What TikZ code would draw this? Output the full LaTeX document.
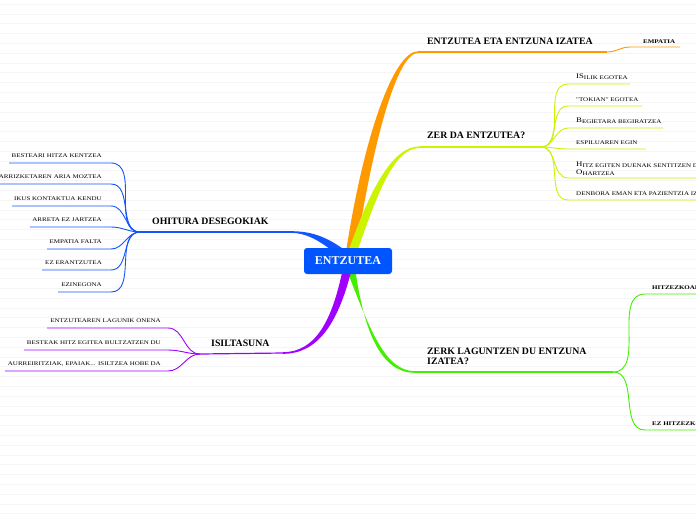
\documentclass[tikz,border=0pt]{standalone}
\usepackage{fontspec}
\setmainfont{Liberation Serif}
\newfontfamily\itemfont[FakeStretch=1.25]{Liberation Serif}
\definecolor{ruleline}{RGB}{245,245,245}
\definecolor{orangeline}{RGB}{255,153,0}
\definecolor{zerline}{RGB}{204,243,0}
\definecolor{greenline}{RGB}{68,238,0}
\definecolor{blueline}{RGB}{17,85,255}
\definecolor{purpleline}{RGB}{160,0,255}
\definecolor{centerblue}{RGB}{0,85,255}
\newcommand{\firstcap}[1]{\raisebox{0.4pt}{\fontsize{7}{7}\selectfont #1}}

\begin{document}
\begin{tikzpicture}[x=1pt, y=-1pt,
    mainlabel/.style={font=\bfseries\fontsize{9.8}{10.5}\selectfont, inner sep=0pt, align=left},
    sublabel/.style={font=\itemfont\fontsize{5.6}{8}\selectfont, inner sep=0pt, align=left},
    subbold/.style={font=\itemfont\bfseries\fontsize{5.6}{8}\selectfont, inner sep=0pt},
    mainline/.style={line width=1.2pt},
    subline/.style={line width=0.9pt},
    centerbox/.style={fill=centerblue, rounded corners=3pt, minimum width=88pt, minimum height=26pt,
        inner sep=0pt, text=white, font=\bfseries\fontsize{12}{13}\selectfont}
]

% Page and ruled background
\useasboundingbox (0,0) rectangle (696,520);
\clip (0,0) rectangle (696,520);
\fill[white] (0,0) rectangle (696,520);
\foreach \yy in {4,13.8,...,520} {
    \draw[ruleline, line width=0.6pt] (0,\yy) -- (696,\yy);
}

% 1. ENTZUTEA ETA ENTZUNA IZATEA (orange)
\fill[orangeline] (346,252) .. controls (363,140) and (393,51.3) .. (418,51.3)
    -- (418,52.9) .. controls (397,53) and (373,142) .. (356,252) -- cycle;
\coordinate (entzunStart) at (418,52);
\coordinate (entzunHub) at (607,52);
\coordinate (empatiaL) at (630,47);
\coordinate (empatiaR) at (680,47);
\draw[mainline, orangeline] (entzunStart) -- (entzunHub);
\draw[subline, orangeline] (entzunHub) to[out=0, in=180] (empatiaL) -- (empatiaR);
\node[mainlabel, anchor=base west] (entzun) at (427,44) {ENTZUTEA ETA ENTZUNA IZATEA};
\node[subbold, anchor=base west] (empatia) at (643,43) {EMPATIA};

% 2. ZER DA ENTZUTEA? (yellow-green)
\fill[zerline] (348,252) .. controls (370,190) and (392,146.3) .. (420,146.3)
    -- (420,147.9) .. controls (394,148) and (378,192) .. (357,252) -- cycle;
\coordinate (zerStart) at (420,147);
\coordinate (zerHub) at (541,147);
\draw[mainline, zerline] (zerStart) -- (zerHub);
\node[mainlabel, anchor=base west] (zer) at (427,138) {ZER DA ENTZUTEA?};

\coordinate (isilikR) at (630,84);
\coordinate (tokianR) at (642,106);
\coordinate (begietaraR) at (663,128);
\coordinate (espiluaR) at (646,149);
\coordinate (hitzR) at (700,178);
\coordinate (denboraR) at (700,200);
\draw[subline, zerline] (zerHub) to[out=0, in=180] (568,84) -- (isilikR);
\draw[subline, zerline] (zerHub) to[out=0, in=180] (568,106) -- (tokianR);
\draw[subline, zerline] (zerHub) to[out=0, in=180] (568,128) -- (begietaraR);
\draw[subline, zerline] (zerHub) to[out=0, in=180] (568,149) -- (espiluaR);
\draw[subline, zerline] (zerHub) to[out=0, in=180] (568,178) -- (hitzR);
\draw[subline, zerline] (zerHub) to[out=0, in=180] (568,200) -- (denboraR);
\node[sublabel, anchor=base west] (isilik) at (576,79) {\firstcap{IS}ILIK EGOTEA};
\node[sublabel, anchor=base west] (tokian) at (576,101) {"TOKIAN" EGOTEA};
\node[sublabel, anchor=base west] (begietara) at (576,123) {\firstcap{B}EGIETARA BEGIRATZEA};
\node[sublabel, anchor=base west] (espilua) at (576,144) {ESPILUAREN EGIN};
\node[sublabel, anchor=south west] (hitz) at (576,175.5) {\firstcap{H}ITZ EGITEN DUENAK SENTITZEN D\\\firstcap{O}HARTZEA};
\node[sublabel, anchor=base west] (denbora) at (576,195) {DENBORA EMAN ETA PAZIENTZIA IZ};

% 3. ZERK LAGUNTZEN DU ENTZUNA IZATEA? (green)
\fill[greenline] (346,268) .. controls (370,330) and (385,371.2) .. (415,371.2)
    -- (415,372.8) .. controls (381,373) and (364,332) .. (355,268) -- cycle;
\coordinate (zerkStart) at (415,372);
\coordinate (zerkHub) at (613,372);
\draw[mainline, greenline] (zerkStart) -- (zerkHub);
\node[mainlabel, anchor=south west] (zerk) at (427,365) {ZERK LAGUNTZEN DU ENTZUNA\\IZATEA?};

\coordinate (hitzezR) at (700,294);
\coordinate (ezhitzR) at (700,430);
\draw[subline, greenline] (zerkHub) to[out=0, in=180] (645,294) -- (hitzezR);
\draw[subline, greenline] (zerkHub) to[out=0, in=180] (645,430) -- (ezhitzR);
\node[subbold, anchor=base west] (hitzezkoak) at (652,289) {HITZEZKOAK};
\node[subbold, anchor=base west] (ezhitzezkoak) at (652,425) {EZ HITZEZKOAK};

% 4. OHITURA DESEGOKIAK (blue)
\fill[blueline] (290,231.2) .. controls (310,231) and (326,236) .. (346,251)
    -- (341,258) .. controls (322,242) and (308,232.8) .. (290,232.8) -- cycle;
\coordinate (ohituraStart) at (290,232);
\coordinate (ohituraHub) at (140,232);
\draw[mainline, blueline] (ohituraStart) -- (ohituraHub);
\node[mainlabel, anchor=base west] (ohitura) at (152,224) {OHITURA DESEGOKIAK};

\coordinate (bestearL) at (9,163);
\coordinate (arriaL) at (-4,184);
\coordinate (ikusL) at (12,206);
\coordinate (arretaL) at (30,227);
\coordinate (empfaltaL) at (47,249);
\coordinate (ezerantL) at (42,270);
\coordinate (ezinL) at (58,292);
\draw[subline, blueline] (ohituraHub) to[out=180, in=0] (111,163) -- (bestearL);
\draw[subline, blueline] (ohituraHub) to[out=180, in=0] (111,184) -- (arriaL);
\draw[subline, blueline] (ohituraHub) to[out=180, in=0] (111,206) -- (ikusL);
\draw[subline, blueline] (ohituraHub) to[out=180, in=0] (111,227) -- (arretaL);
\draw[subline, blueline] (ohituraHub) to[out=180, in=0] (111,249) -- (empfaltaL);
\draw[subline, blueline] (ohituraHub) to[out=180, in=0] (111,270) -- (ezerantL);
\draw[subline, blueline] (ohituraHub) to[out=180, in=0] (111,292) -- (ezinL);
\node[sublabel, anchor=base east] (bestear) at (102,157.5) {BESTEARI HITZA KENTZEA};
\node[sublabel, anchor=base east] (arria) at (102,178.5) {ARRIZKETAREN ARIA MOZTEA};
\node[sublabel, anchor=base east] (ikus) at (102,200.5) {IKUS KONTAKTUA KENDU};
\node[sublabel, anchor=base east] (arreta) at (102,221.5) {ARRETA EZ JARTZEA};
\node[sublabel, anchor=base east] (empfalta) at (102,243.5) {EMPATIA FALTA};
\node[sublabel, anchor=base east] (ezerant) at (102,264.5) {EZ ERANTZUTEA};
\node[sublabel, anchor=base east] (ezin) at (102,286.5) {EZINEGONA};

% 5. ISILTASUNA (purple)
\fill[purpleline] (283,352.2) .. controls (315,352) and (332,322) .. (343,268)
    -- (352,268) .. controls (338,325) and (317,353.8) .. (283,353.8) -- cycle;
\coordinate (isilStart) at (283,353);
\coordinate (isilHub) at (200,354);
\draw[mainline, purpleline] (isilStart) -- (isilHub);
\node[mainlabel, anchor=base west] (isiltasuna) at (211,346) {ISILTASUNA};

\coordinate (lagunL) at (47,328);
\coordinate (bultzL) at (24,350);
\coordinate (aurreL) at (5,371);
\draw[subline, purpleline] (isilHub) to[out=180, in=0] (168,328) -- (lagunL);
\draw[subline, purpleline] (isilHub) to[out=180, in=0] (168,350) -- (bultzL);
\draw[subline, purpleline] (isilHub) to[out=180, in=0] (168,371) -- (aurreL);
\node[sublabel, anchor=base east] (lagun) at (161,322.5) {ENTZUTEAREN LAGUNIK ONENA};
\node[sublabel, anchor=base east] (bultz) at (161,344.5) {BESTEAK HITZ EGITEA BULTZATZEN DU};
\node[sublabel, anchor=base east] (aurre) at (161,365.5) {AURREIRITZIAK, EPAIAK... ISILTZEA HOBE DA};

% 6. CENTRAL TOPIC
\node[centerbox] (entzutea) at (348,261) {ENTZUTEA};

\end{tikzpicture}
\end{document}
